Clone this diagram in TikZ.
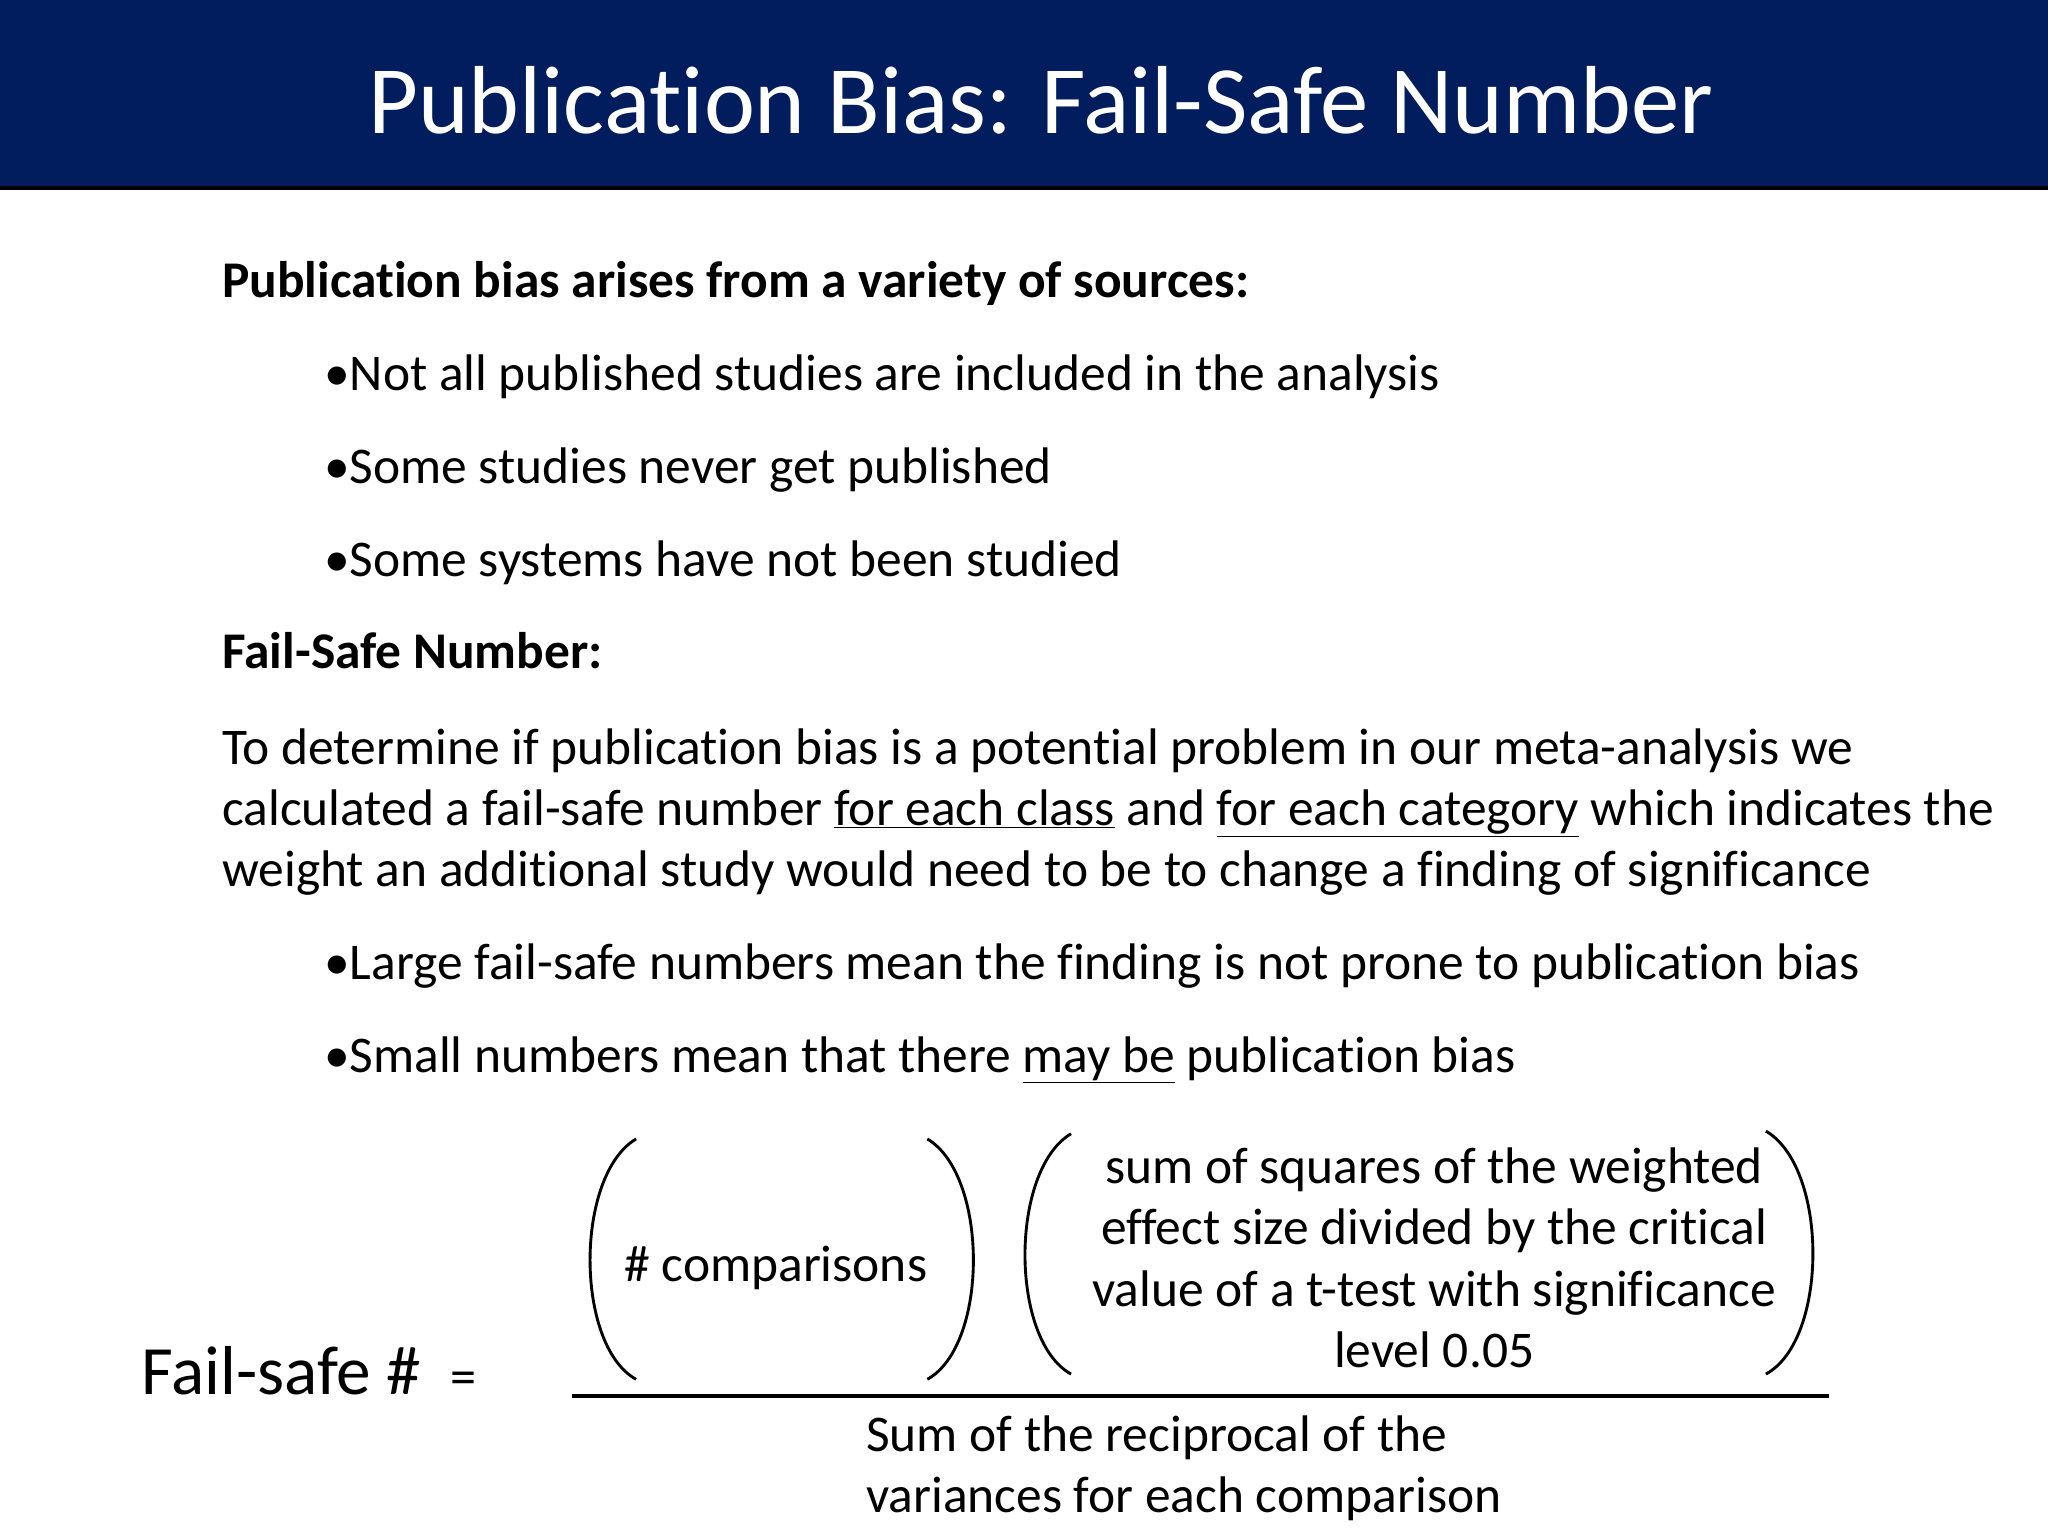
\documentclass[tikz,border=0pt]{standalone}
\usepackage{fontspec}
\setmainfont[Ligatures=NoCommon]{Carlito}
\begin{document}
\begin{tikzpicture}[x=1pt,y=-1pt,
  body/.style={anchor=base west,inner sep=0pt,font=\fontsize{39.4}{47}\selectfont},
  paren/.style={line width=2.2pt}]
\useasboundingbox (0,0) rectangle (1568,1176);
\fill[white] (0,0) rectangle (1568,1176);
\fill[fill={rgb,255:red,2;green,29;blue,94}] (0,0) rectangle (1568,144);
\draw[line width=3pt] (0,144) -- (1568,144);
\node (title) [anchor=base,inner sep=0pt,text=white,font=\fontsize{74}{80}\selectfont] at (797,102) {Publication Bias: Fail-Safe Number};
\node (h1) [body,font=\fontsize{39.4}{47}\selectfont\bfseries] at (170,228) {Publication bias arises from a variety of sources:};
\node (b1) [body] at (248,299) {•Not all published studies are included in the analysis};
\node (b2) [body] at (248,370) {•Some studies never get published};
\node (b3) [body] at (248,441) {•Some systems have not been studied};
\node (h2) [body,font=\fontsize{39.4}{47}\selectfont\bfseries] at (170,512) {Fail-Safe Number:};
\node (p1) [body] at (170,585) {To determine if publication bias is a potential problem in our meta-analysis we};
\node (p2) [body] at (170,632) {calculated a fail-safe number \underline{for each class} and \underline{for each category} which indicates the};
\node (p3) [body] at (170,679) {weight an additional study would need to be to change a finding of significance};
\node (b4) [body] at (248,750) {•Large fail-safe numbers mean the finding is not prone to publication bias};
\node (b5) [body] at (248,821) {•Small numbers mean that there \underline{may be} publication bias};
\node (fs) [anchor=base west,inner sep=0pt,font=\fontsize{53}{60}\selectfont] at (108,1068) {Fail-safe \#};
\node (eq) [anchor=base west,inner sep=0pt,font=\fontsize{40}{44}\selectfont] at (345,1068) {=};
\node (cmp) [anchor=base,inner sep=0pt,font=\fontsize{39.4}{47}\selectfont] at (594,981) {\# comparisons};
\node (ss) [anchor=base,inner sep=0pt,align=center,font=\fontsize{39.4}{47}\selectfont] at (1098,1047) {sum of squares of the weighted\\effect size divided by the critical\\value of a t-test with significance\\level 0.05};
\node (den) [anchor=base west,inner sep=0pt,align=left,font=\fontsize{39.4}{47}\selectfont] at (663,1158) {Sum of the reciprocal of the\\variances for each comparison};
\coordinate (fl) at (438,1069); \coordinate (fr) at (1400,1069);
\draw[line width=3pt] (fl) -- (fr);
\draw[paren] (487,872) .. controls (440,900) and (440,1030) .. (487,1056);
\draw[paren] (710,872) .. controls (757,900) and (757,1030) .. (710,1056);
\draw[paren] (820,868) .. controls (773,896) and (773,1026) .. (820,1052);
\draw[paren] (1352,866) .. controls (1400,894) and (1400,1026) .. (1352,1052);
\end{tikzpicture}
\end{document}
